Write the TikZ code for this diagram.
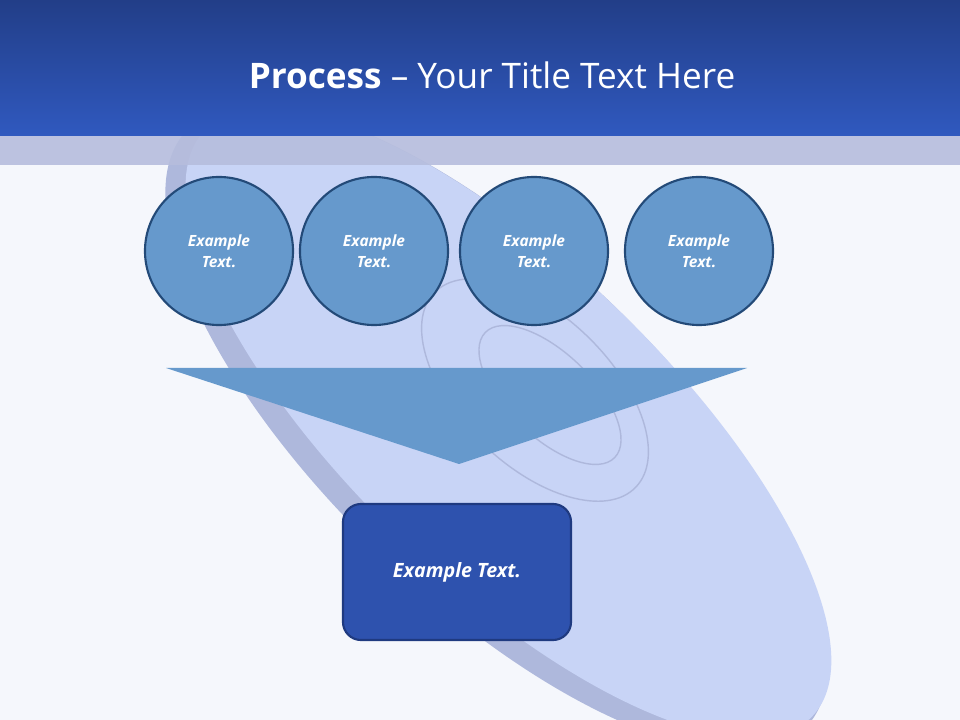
\documentclass[tikz,border=0pt]{standalone}
\usepackage{fontspec}
\setmainfont{Open Sans}
\definecolor{bg}{HTML}{F5F7FC}
\definecolor{hdtop}{HTML}{223E88}
\definecolor{hdbot}{HTML}{3059BF}
\definecolor{band}{HTML}{B6BDDD}
\definecolor{disc}{HTML}{C8D4F6}
\definecolor{discedge}{HTML}{AEB8DC}
\definecolor{cfill}{HTML}{6699CC}
\definecolor{cedge}{HTML}{234A78}
\definecolor{rfill}{HTML}{2E52AE}
\definecolor{redge}{HTML}{1F3A80}
\tikzset{x=0.025cm,y=-0.025cm,
 circ/.style={circle,draw=cedge,line width=1.5pt,fill=cfill,minimum size=3.7cm,text=white,font=\bfseries\itshape\fontsize{11}{15}\selectfont,align=center},
 rbox/.style={rectangle,rounded corners=0.45cm,draw=redge,line width=1.5pt,fill=rfill,minimum width=5.7cm,minimum height=3.4cm,text=white,font=\bfseries\itshape\fontsize{14}{16}\selectfont}}
\begin{document}
\begin{tikzpicture}
\useasboundingbox (0,0) rectangle (960,720);
\fill[bg] (0,0) rectangle (960,720);
% disc
\fill[discedge,rotate around={-44:(500,425)}] (500,430) ellipse (430 and 170);
\fill[disc,rotate around={-44:(500,425)}] (505,418) ellipse (422 and 158);
\draw[discedge,line width=1pt,rotate around={-44:(535,390)}] (535,390) ellipse (140 and 75);
\draw[discedge,line width=1pt,rotate around={-44:(550,395)}] (550,395) ellipse (90 and 42);
% header
\shade[top color=hdtop,bottom color=hdbot] (0,0) rectangle (960,136);
\fill[band,opacity=0.9] (0,136) rectangle (960,165);
\node[text=white,font=\fontsize{25}{30}\selectfont] (title) at (492,75) {\textbf{Process} -- Your Title Text Here};
% circles
\node[circ] (c1) at (219,251) {Example\\Text.};
\node[circ] (c2) at (374,251) {Example\\Text.};
\node[circ] (c3) at (534,251) {Example\\Text.};
\node[circ] (c4) at (699,251) {Example\\Text.};
% triangle
\fill[cfill] (166,368) -- (747,368) -- (459,464) -- cycle;
\node[rbox] (r) at (457,572) {Example Text.};
\end{tikzpicture}
\end{document}
